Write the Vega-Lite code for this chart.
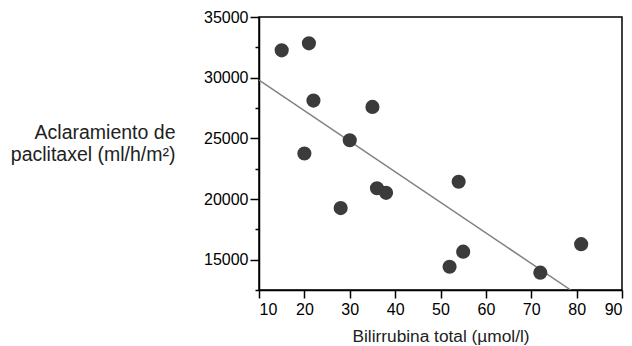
{
  "$schema": "https://vega.github.io/schema/vega-lite/v6.json",
  "width": 363,
  "height": 273,
  "autosize": {"type": "none"},
  "padding": {"left": 259, "top": 17, "right": 10, "bottom": 56},
  "background": "white",
  "config": {
    "view": {"stroke": "black", "strokeWidth": 1.5},
    "font": "Liberation Sans",
    "axis": {
      "grid": false,
      "domainColor": "black",
      "domainWidth": 1.5,
      "tickColor": "black",
      "tickWidth": 1.5,
      "labelColor": "black",
      "labelFont": "Liberation Sans",
      "labelFontSize": 16,
      "titleFont": "Liberation Sans",
      "titleFontSize": 18,
      "titleFontWeight": "normal",
      "titleColor": "#222222"
    }
  },
  "datasets": {
    "pts": [
      {"bili": 15, "clear": 32250},
      {"bili": 21, "clear": 32830},
      {"bili": 22, "clear": 28110},
      {"bili": 35, "clear": 27590},
      {"bili": 30, "clear": 24840},
      {"bili": 20, "clear": 23750},
      {"bili": 36, "clear": 20890},
      {"bili": 38, "clear": 20510},
      {"bili": 28, "clear": 19250},
      {"bili": 54, "clear": 21420},
      {"bili": 52, "clear": 14420},
      {"bili": 55, "clear": 15660},
      {"bili": 72, "clear": 13930},
      {"bili": 81, "clear": 16280}
    ],
    "fit": [
      {"bili": 10, "clear": 29800},
      {"bili": 78.7, "clear": 12500}
    ]
  },
  "layer": [
    {
      "data": {"name": "fit"},
      "mark": {"type": "line", "color": "#808080", "strokeWidth": 1.5, "clip": true},
      "encoding": {
        "x": {
          "field": "bili", "type": "quantitative",
          "scale": {"domain": [10, 90], "nice": false, "zero": false},
          "axis": {
            "values": [10, 20, 30, 40, 50, 60, 70, 80, 90],
            "tickSize": 8,
            "labelPadding": 3,
            "title": "Bilirrubina total (µmol/l)",
            "titleFontSize": 17.3,
            "titleBaseline": "alphabetic",
            "titleY": 51,
            "titleX": 181.5
          }
        },
        "y": {
          "field": "clear", "type": "quantitative",
          "scale": {"domain": [12500, 35000], "nice": false, "zero": false},
          "axis": {
            "orient": "left",
            "values": [15000, 20000, 25000, 30000, 35000],
            "format": "d",
            "tickSize": 9,
            "labelPadding": 2,
            "title": ["Aclaramiento de", "paclitaxel (ml/h/m²)"],
            "titleFontSize": 19.5,
            "titleAngle": 0,
            "titleAlign": "right",
            "titleBaseline": "alphabetic",
            "titleX": -84,
            "titleY": 121,
            "titleLineHeight": 22
          }
        }
      }
    },
    {
      "data": {"name": "pts"},
      "mark": {"type": "circle", "color": "#3b3b3b", "opacity": 1, "size": 200},
      "encoding": {
        "x": {"field": "bili", "type": "quantitative"},
        "y": {
          "field": "clear", "type": "quantitative",
          "axis": {
            "orient": "left",
            "values": [12500, 17500, 22500, 27500, 32500],
            "tickSize": 4,
            "labels": false,
            "domain": false,
            "title": null
          }
        }
      }
    }
  ],
  "resolve": {"axis": {"y": "independent"}}
}
